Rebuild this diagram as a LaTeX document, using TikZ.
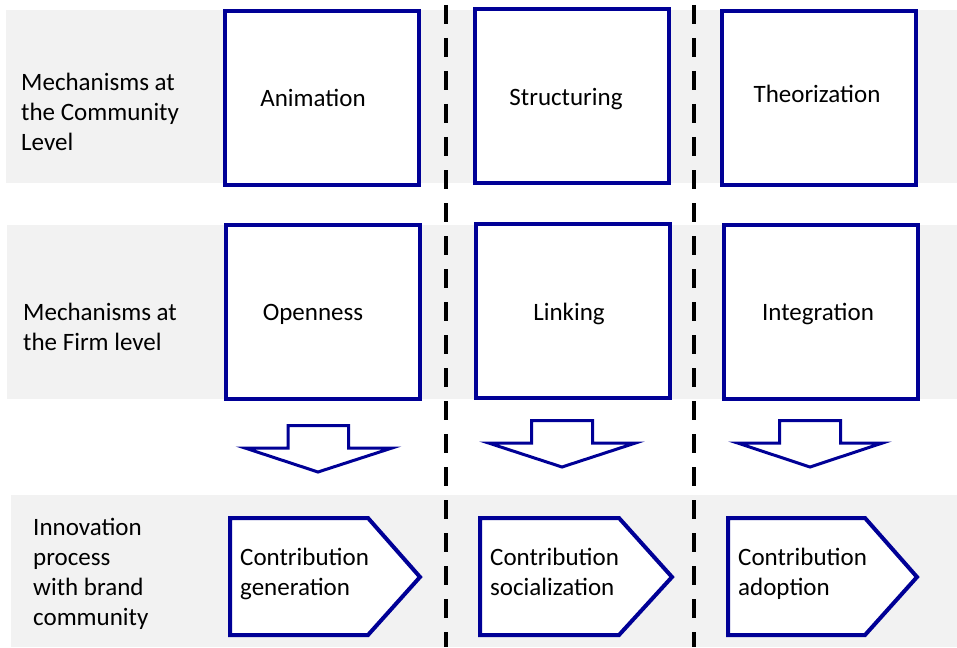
\documentclass[tikz,border=0pt]{standalone}
\usepackage{fontspec}
\setmainfont{Carlito}
\definecolor{bandgray}{RGB}{242,242,242}
\definecolor{boxblue}{RGB}{0,0,150}
\begin{document}
\begin{tikzpicture}[x=1pt,y=-1pt,
  band/.style={fill=bandgray},
  divider/.style={line width=4pt, dash pattern=on 19pt off 14pt},
  box/.style={draw=boxblue, line width=4pt, fill=white, minimum width=194pt, minimum height=174pt, inner sep=0pt},
  blockarrow/.style={draw=boxblue, line width=3pt, fill=white, line join=miter},
  pentagon/.style={draw=boxblue, line width=4pt, fill=white, line join=miter},
  txt/.style={font=\fontsize{25}{30}\selectfont, inner sep=0pt, align=left, text=black},
  boxtxt/.style={font=\fontsize{25}{30}\selectfont, inner sep=0pt, anchor=base, text=black}]
\useasboundingbox (0,0) rectangle (957,647);
% bands
\fill[band] (6,10) rectangle (957,183);
\fill[band] (7,225) rectangle (957,399);
\fill[band] (11,495) rectangle (957,647);
% dividers
\coordinate (d1t) at (446,5);
\coordinate (d1b) at (446,647);
\coordinate (d2t) at (694,5);
\coordinate (d2b) at (694,647);
\draw[divider] (d1t) -- (d1b);
\draw[divider] (d2t) -- (d2b);
% row labels (base anchor = baseline of last line)
\node[txt, anchor=base west] (l1) at (21,151) {Mechanisms at\\the Community\\Level};
\node[txt, anchor=base west] (l2) at (23,350) {Mechanisms at\\the Firm level};
\node[txt, anchor=base west] (l3) at (33,625) {Innovation\\process\\with brand\\community};
% boxes
\node[box] (anim) at (321.5,98) {};
\node[box] (struct) at (571.5,96) {};
\node[box] (theor) at (818.5,98) {};
\node[box] (open) at (322.5,312) {};
\node[box] (link) at (572.5,310.5) {};
\node[box] (integ) at (821,312) {};
\node[boxtxt] (tanim) at (313,107) {Animation};
\node[boxtxt] (tstruct) at (566,106) {Structuring};
\node[boxtxt] (ttheor) at (817,103) {Theorization};
\node[boxtxt] (topen) at (313,320) {Openness};
\node[boxtxt] (tlink) at (569,320) {Linking};
\node[boxtxt] (tinteg) at (818,320) {Integration};
% block arrows
\draw[blockarrow] (288,425.5) -- (348.5,425.5) -- (348.5,448) -- (392,448) -- (318,472) -- (245,448) -- (288,448) -- cycle;
\draw[blockarrow] (531.5,420.5) -- (592.5,420.5) -- (592.5,443) -- (635.5,443) -- (562,467) -- (488.5,443) -- (531.5,443) -- cycle;
\draw[blockarrow] (779.5,420.5) -- (840.5,420.5) -- (840.5,443) -- (882.5,443) -- (810,467) -- (737.5,443) -- (779.5,443) -- cycle;
% pentagons
\draw[pentagon] (230,518) -- (368,518) -- (420,577) -- (368,635) -- (230,635) -- cycle;
\draw[pentagon] (480,518) -- (619,518) -- (672,577) -- (619,635) -- (480,635) -- cycle;
\draw[pentagon] (728,518) -- (865,518) -- (917,577) -- (865,635) -- (728,635) -- cycle;
\node[txt, anchor=base west] (p1) at (240,595) {Contribution\\generation};
\node[txt, anchor=base west] (p2) at (490,595) {Contribution\\socialization};
\node[txt, anchor=base west] (p3) at (738,595) {Contribution\\adoption};
\end{tikzpicture}
\end{document}
